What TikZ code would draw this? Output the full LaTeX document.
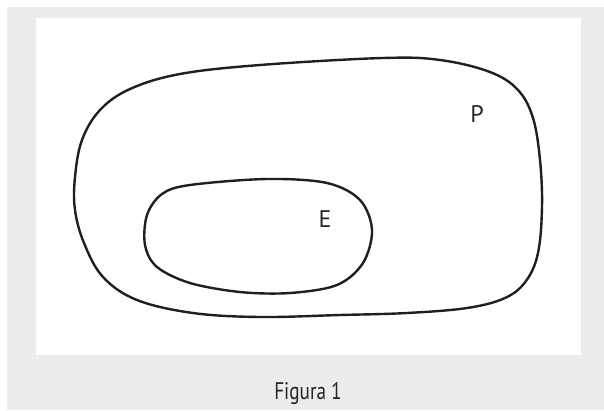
\documentclass[tikz,border=0pt]{standalone}
\usepackage{fontspec}
\setmainfont{PT Sans}
\newfontfamily\capfont[FakeStretch=0.8]{PT Sans}
\usetikzlibrary{positioning}
\definecolor{panelgray}{RGB}{236,236,234}

\begin{document}
\begin{tikzpicture}[x=1pt,y=-1pt,
set/.style={draw=black!88,line width=2.4pt},
lbl/.style={font=\fontsize{24}{28}\selectfont,text=black!85,inner sep=0pt,anchor=base},
captiontext/.style={font=\capfont\fontsize{24}{28}\selectfont,text=black!85,inner sep=0pt,anchor=base}]
\useasboundingbox (0,0) rectangle (604,410);
\fill[white] (0,0) rectangle (604,410);
\fill[panelgray] (7,7) rectangle (604,410);
\fill[white] (36,18) rectangle (581,355);
% set P
\draw[set] plot[smooth cycle,tension=0.6] coordinates {
 (260,65) (383,58) (440,60) (490,72) (518,90) (533,118) (540,160)
 (542,207) (538,253) (526,281) (505,298) (467,308) (407,313) (340,315)
 (260,317) (193,313) (137,300) (103,277) (84,243) (75,210) (75,177)
 (82,140) (100,110) (130,89) (180,74)};
% set E
\draw[set] plot[smooth cycle,tension=0.55] coordinates {
 (190,185) (267,179) (327,183) (360,200) (372,230) (363,263) (337,285)
 (290,293) (240,292) (190,283) (157,267) (145,245) (147,215) (162,194)};
\node[lbl] (labelP) at (477,122) {P};
\node[lbl] (labelE) at (325,227) {E};
\node[captiontext] (caption) at (308,399) {Figura 1};
\end{tikzpicture}
\end{document}
